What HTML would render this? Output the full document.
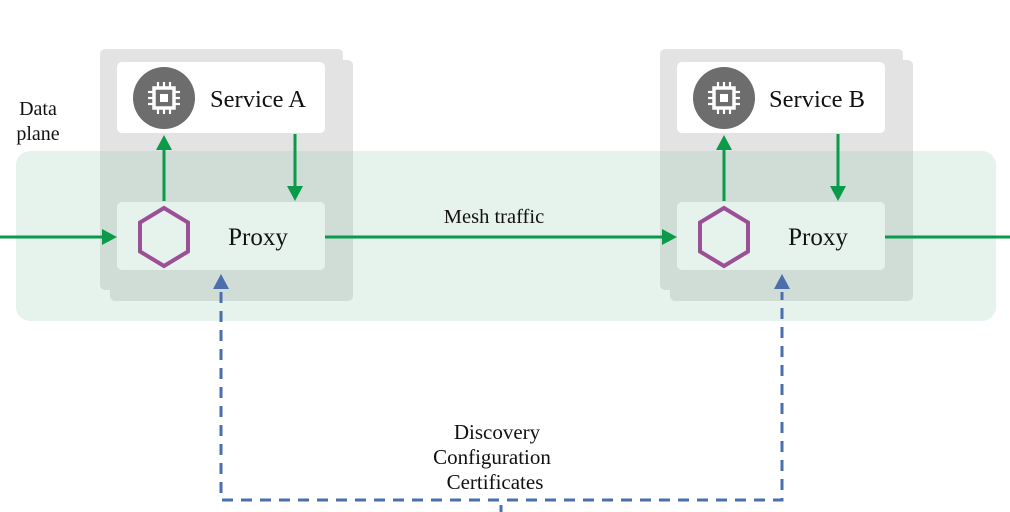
<!DOCTYPE html>
<html><head><meta charset="utf-8"><style>
html,body{margin:0;padding:0;background:#fff;}
svg{display:block}
text{font-family:"Liberation Serif",serif;fill:#111}
</style></head><body>
<svg width="1010" height="512" viewBox="0 0 1010 512" xmlns="http://www.w3.org/2000/svg">
<defs>
<g id="chip">
<circle cx="0" cy="0" r="31" fill="#6d6d6d"/>
<rect x="-10" y="-10" width="20" height="20" fill="none" stroke="#fff" stroke-width="3.5"/>
<rect x="-4" y="-4" width="8" height="8" fill="#fff"/>
<g stroke="#fff" stroke-width="2.2">
<line x1="-6" y1="-16" x2="-6" y2="-11"/><line x1="0" y1="-16" x2="0" y2="-11"/><line x1="6" y1="-16" x2="6" y2="-11"/>
<line x1="-6" y1="11" x2="-6" y2="16"/><line x1="0" y1="11" x2="0" y2="16"/><line x1="6" y1="11" x2="6" y2="16"/>
<line x1="-16" y1="-6" x2="-11" y2="-6"/><line x1="-16" y1="0" x2="-11" y2="0"/><line x1="-16" y1="6" x2="-11" y2="6"/>
<line x1="11" y1="-6" x2="16" y2="-6"/><line x1="11" y1="0" x2="16" y2="0"/><line x1="11" y1="6" x2="16" y2="6"/>
</g>
</g>
</defs>

<rect x="110" y="60" width="243" height="241" rx="5" fill="#e3e3e3"/>
<rect x="100" y="49" width="243" height="241" rx="5" fill="#e3e3e3"/>
<rect x="670" y="60" width="243" height="241" rx="5" fill="#e3e3e3"/>
<rect x="660" y="49" width="243" height="241" rx="5" fill="#e3e3e3"/>

<rect x="16" y="151" width="980" height="170" rx="14" fill="rgb(138,194,166)" fill-opacity="0.214"/>

<rect x="117" y="62" width="208" height="71" rx="5" fill="#fff"/>
<rect x="677" y="62" width="208" height="71" rx="5" fill="#fff"/>
<use href="#chip" x="164" y="98"/>
<use href="#chip" x="724" y="98"/>
<text x="258" y="107" font-size="24.5" text-anchor="middle">Service A</text>
<text x="817" y="107" font-size="24.5" text-anchor="middle">Service B</text>

<rect x="117" y="202" width="208" height="68" rx="5" fill="#e6f2ec"/>
<rect x="677" y="202" width="208" height="68" rx="5" fill="#e6f2ec"/>
<polygon points="164,208 188,222.5 188,251.5 164,266 140,251.5 140,222.5" fill="none" stroke="#9b4f96" stroke-width="4"/>
<polygon points="724,208 748,222.5 748,251.5 724,266 700,251.5 700,222.5" fill="none" stroke="#9b4f96" stroke-width="4"/>
<text x="258" y="245" font-size="25" text-anchor="middle">Proxy</text>
<text x="818" y="245" font-size="25" text-anchor="middle">Proxy</text>

<g stroke="#0a9a4a" stroke-width="3" fill="none">
<line x1="0" y1="237" x2="104" y2="237"/>
<line x1="325" y1="237" x2="664" y2="237"/>
<line x1="885" y1="237" x2="1010" y2="237"/>
<line x1="164" y1="201" x2="164" y2="148"/>
<line x1="295" y1="134" x2="295" y2="188"/>
<line x1="724" y1="201" x2="724" y2="148"/>
<line x1="838" y1="134" x2="838" y2="188"/>
</g>
<g fill="#0a9a4a">
<polygon points="117,237 102,229 102,245"/>
<polygon points="677,237 662,229 662,245"/>
<polygon points="164,135 156,150 172,150"/>
<polygon points="295,201 287,186 303,186"/>
<polygon points="724,135 716,150 732,150"/>
<polygon points="838,201 830,186 846,186"/>
</g>
<text x="494" y="223" font-size="20.5" text-anchor="middle">Mesh traffic</text>

<path d="M221,292 V500 H782 V292" fill="none" stroke="#4a6fac" stroke-width="3" stroke-dasharray="11,8"/>
<line x1="501" y1="505" x2="501" y2="512" stroke="#4a6fac" stroke-width="3"/>
<polygon points="221,274 213,289 229,289" fill="#4a6fac"/>
<polygon points="782,274 774,289 790,289" fill="#4a6fac"/>
<text x="497" y="439" font-size="21" text-anchor="middle">Discovery</text>
<text x="492" y="464" font-size="21" text-anchor="middle">Configuration</text>
<text x="495" y="489" font-size="21" text-anchor="middle">Certificates</text>

<text x="38" y="115" font-size="20" text-anchor="middle">Data</text>
<text x="38" y="140" font-size="20" text-anchor="middle">plane</text>
</svg>
</body></html>
